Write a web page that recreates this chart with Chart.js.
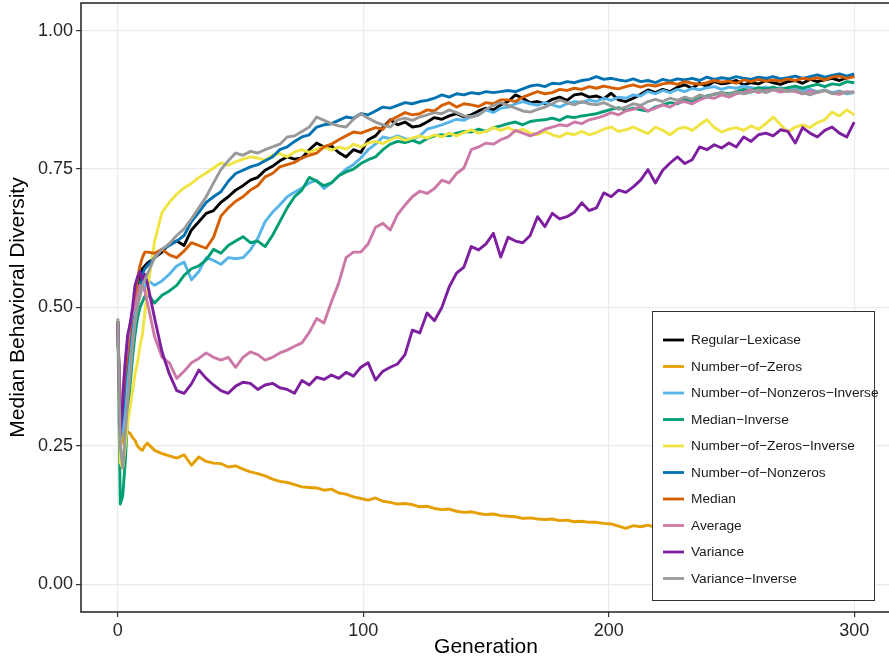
<!DOCTYPE html>
<html>
<head>
<meta charset="utf-8">
<script src="https://cdn.jsdelivr.net/npm/chart.js@4.4.1/dist/chart.umd.min.js"></script>
<style>
  html, body { margin: 0; padding: 0; background: #ffffff; overflow: hidden; }
  #wrap { width: 889px; height: 664px; overflow: hidden; position: relative; }
  canvas { display: block; }
</style>
</head>
<body>
<div id="wrap"><canvas id="chart" width="892" height="664"></canvas></div>
<script>
// Generations at which the median diversity was recorded
const generations = [
  0, 1, 2, 3, 4, 5, 6, 7, 8, 9, 10, 11, 12,
  15, 18, 21, 24, 27, 30, 33, 36, 39, 42, 45, 48,
  51, 54, 57, 60, 63, 66, 69, 72, 75, 78, 81, 84,
  87, 90, 93, 96, 99, 102, 105, 108, 111, 114, 117, 120,
  123, 126, 129, 132, 135, 138, 141, 144, 147, 150, 153, 156,
  159, 162, 165, 168, 171, 174, 177, 180, 183, 186, 189, 192,
  195, 198, 201, 204, 207, 210, 213, 216, 219, 222, 225, 228,
  231, 234, 237, 240, 243, 246, 249, 252, 255, 258, 261, 264,
  267, 270, 273, 276, 279, 282, 285, 288, 291, 294, 297, 300
];

const regularLexicase = [
  0.475, 0.27, 0.30, 0.35, 0.40, 0.44, 0.48, 0.51, 0.54, 0.55, 0.57, 0.575, 0.58,
  0.59, 0.60, 0.615, 0.62, 0.612, 0.64, 0.655, 0.67, 0.675, 0.69, 0.70, 0.712,
  0.72, 0.73, 0.735, 0.748, 0.755, 0.765, 0.772, 0.768, 0.77, 0.785, 0.797, 0.79,
  0.792, 0.78, 0.772, 0.785, 0.78, 0.803, 0.81, 0.825, 0.839, 0.83, 0.835, 0.826,
  0.828, 0.835, 0.843, 0.84, 0.846, 0.85, 0.844, 0.848, 0.855, 0.86, 0.857, 0.866,
  0.872, 0.884, 0.878, 0.87, 0.872, 0.868, 0.876, 0.88, 0.874, 0.884, 0.886, 0.88,
  0.882, 0.877, 0.887, 0.875, 0.872, 0.878, 0.885, 0.893, 0.888, 0.894, 0.89, 0.898,
  0.902, 0.896, 0.905, 0.90, 0.908, 0.904, 0.906, 0.91, 0.902, 0.906, 0.904, 0.91,
  0.906, 0.903, 0.908, 0.91, 0.905, 0.912, 0.908, 0.911, 0.914, 0.91, 0.915, 0.918
];

const numberOfZeros = [
  0.475, 0.25, 0.26, 0.28, 0.275, 0.273, 0.265, 0.26, 0.25, 0.245, 0.242, 0.25, 0.255,
  0.242, 0.236, 0.232, 0.228, 0.234, 0.215, 0.23, 0.222, 0.219, 0.218, 0.212, 0.214,
  0.208, 0.203, 0.20, 0.196, 0.19, 0.186, 0.184, 0.18, 0.176, 0.175, 0.174, 0.17,
  0.172, 0.165, 0.163, 0.158, 0.155, 0.152, 0.156, 0.15, 0.148, 0.145, 0.146, 0.144,
  0.14, 0.141, 0.137, 0.135, 0.136, 0.132, 0.13, 0.131, 0.128, 0.126, 0.127, 0.124,
  0.123, 0.122, 0.119, 0.12, 0.118, 0.117, 0.118, 0.115, 0.116, 0.113, 0.114, 0.112,
  0.112, 0.11, 0.109, 0.105, 0.101, 0.106, 0.104, 0.107, 0.103, 0.102, 0.10, 0.099,
  0.098, 0.097, 0.096, 0.095, 0.096, 0.094, 0.093, 0.092, 0.093, 0.091, 0.09, 0.091,
  0.089, 0.09, 0.088, 0.087, 0.088, 0.086, 0.087, 0.085, 0.086, 0.084, 0.085, 0.084
];

const numberOfNonzerosInverse = [
  0.475, 0.26, 0.28, 0.33, 0.38, 0.42, 0.46, 0.50, 0.52, 0.54, 0.545, 0.53, 0.55,
  0.54, 0.548, 0.56, 0.575, 0.582, 0.55, 0.565, 0.59, 0.585, 0.578, 0.59, 0.588,
  0.59, 0.604, 0.625, 0.655, 0.672, 0.685, 0.70, 0.708, 0.716, 0.725, 0.73, 0.715,
  0.725, 0.738, 0.75, 0.758, 0.77, 0.785, 0.795, 0.808, 0.805, 0.81, 0.805, 0.803,
  0.81, 0.822, 0.826, 0.83, 0.835, 0.84, 0.838, 0.845, 0.848, 0.857, 0.852, 0.86,
  0.862, 0.868, 0.872, 0.868, 0.865, 0.87, 0.866, 0.862, 0.868, 0.872, 0.87, 0.875,
  0.872, 0.878, 0.874, 0.88, 0.878, 0.884, 0.882, 0.89, 0.886, 0.892, 0.888, 0.894,
  0.89, 0.896, 0.893, 0.897, 0.899, 0.894, 0.898, 0.896, 0.90, 0.897, 0.895, 0.898,
  0.894, 0.897, 0.893, 0.896, 0.891, 0.894, 0.89, 0.893, 0.888, 0.891, 0.886, 0.888
];

const medianInverse = [
  0.475, 0.145, 0.16, 0.22, 0.30, 0.36, 0.41, 0.45, 0.48, 0.50, 0.51, 0.52, 0.525,
  0.508, 0.522, 0.53, 0.54, 0.558, 0.57, 0.575, 0.586, 0.605, 0.598, 0.612, 0.62,
  0.628, 0.617, 0.62, 0.61, 0.63, 0.655, 0.68, 0.70, 0.712, 0.735, 0.728, 0.72,
  0.725, 0.738, 0.745, 0.75, 0.76, 0.767, 0.772, 0.785, 0.795, 0.80, 0.798, 0.802,
  0.797, 0.805, 0.81, 0.812, 0.81, 0.815, 0.818, 0.817, 0.822, 0.818, 0.825, 0.828,
  0.832, 0.835, 0.83, 0.836, 0.838, 0.839, 0.842, 0.838, 0.845, 0.843, 0.846, 0.848,
  0.85, 0.854, 0.858, 0.861, 0.856, 0.86, 0.857, 0.855, 0.862, 0.866, 0.87, 0.868,
  0.875, 0.872, 0.878, 0.882, 0.885, 0.888, 0.886, 0.89, 0.894, 0.892, 0.897, 0.895,
  0.898, 0.894, 0.897, 0.90, 0.896, 0.90, 0.903, 0.899, 0.904, 0.902, 0.908, 0.906
];

const numberOfZerosInverse = [
  0.475, 0.22, 0.21, 0.25, 0.29, 0.32, 0.35, 0.38, 0.40, 0.43, 0.45, 0.49, 0.53,
  0.62, 0.672, 0.69, 0.705, 0.716, 0.724, 0.735, 0.743, 0.752, 0.761, 0.757, 0.763,
  0.768, 0.772, 0.77, 0.766, 0.775, 0.778, 0.772, 0.781, 0.785, 0.78, 0.786, 0.79,
  0.784, 0.79, 0.786, 0.795, 0.79, 0.797, 0.80, 0.796, 0.803, 0.808, 0.802, 0.806,
  0.81, 0.806, 0.812, 0.808, 0.815, 0.81, 0.816, 0.821, 0.815, 0.818, 0.825, 0.82,
  0.825, 0.818, 0.822, 0.815, 0.812, 0.818, 0.812, 0.808, 0.815, 0.812, 0.818, 0.812,
  0.816, 0.822, 0.826, 0.818, 0.821, 0.826, 0.82, 0.814, 0.826, 0.82, 0.812, 0.822,
  0.826, 0.82, 0.83, 0.839, 0.825, 0.817, 0.822, 0.825, 0.82, 0.828, 0.822, 0.832,
  0.844, 0.83, 0.817, 0.826, 0.83, 0.825, 0.834, 0.839, 0.853, 0.846, 0.857, 0.848
];

const numberOfNonzeros = [
  0.475, 0.28, 0.31, 0.37, 0.41, 0.45, 0.49, 0.52, 0.53, 0.54, 0.56, 0.57, 0.575,
  0.59, 0.605, 0.612, 0.62, 0.63, 0.655, 0.672, 0.69, 0.70, 0.709, 0.728, 0.742,
  0.748, 0.754, 0.758, 0.765, 0.772, 0.785, 0.79, 0.80, 0.808, 0.812, 0.826, 0.83,
  0.832, 0.838, 0.844, 0.842, 0.85, 0.848, 0.855, 0.862, 0.86, 0.865, 0.87, 0.868,
  0.872, 0.874, 0.878, 0.884, 0.88, 0.886, 0.884, 0.888, 0.886, 0.89, 0.888, 0.89,
  0.892, 0.89, 0.895, 0.90, 0.902, 0.899, 0.905, 0.904, 0.908, 0.906, 0.91, 0.912,
  0.917, 0.912, 0.914, 0.911, 0.909, 0.913, 0.908, 0.91, 0.906, 0.912, 0.909, 0.913,
  0.911, 0.914, 0.91, 0.916, 0.912, 0.915, 0.913, 0.917, 0.914, 0.912, 0.916, 0.914,
  0.917, 0.913, 0.915, 0.918, 0.914, 0.917, 0.92, 0.916, 0.919, 0.922, 0.918, 0.922
];

const median = [
  0.475, 0.30, 0.33, 0.38, 0.42, 0.46, 0.49, 0.52, 0.55, 0.575, 0.59, 0.60, 0.60,
  0.598, 0.605, 0.595, 0.59, 0.602, 0.617, 0.612, 0.607, 0.627, 0.665, 0.68, 0.692,
  0.70, 0.712, 0.72, 0.736, 0.742, 0.754, 0.758, 0.762, 0.77, 0.775, 0.779, 0.79,
  0.795, 0.803, 0.81, 0.817, 0.815, 0.82, 0.825, 0.822, 0.838, 0.845, 0.852, 0.848,
  0.85, 0.857, 0.855, 0.865, 0.87, 0.862, 0.868, 0.866, 0.863, 0.87, 0.868, 0.875,
  0.875, 0.872, 0.88, 0.885, 0.89, 0.886, 0.888, 0.894, 0.892, 0.896, 0.894, 0.899,
  0.896, 0.90, 0.897, 0.895, 0.899, 0.902, 0.898, 0.902, 0.90, 0.904, 0.906, 0.903,
  0.908, 0.905, 0.903, 0.906, 0.91, 0.907, 0.909, 0.905, 0.911, 0.908, 0.912, 0.909,
  0.911, 0.909, 0.913, 0.91, 0.914, 0.912, 0.915, 0.911, 0.916, 0.918, 0.914, 0.917
];

const average = [
  0.47, 0.28, 0.35, 0.40, 0.44, 0.47, 0.49, 0.50, 0.52, 0.54, 0.54, 0.53, 0.51,
  0.447, 0.41, 0.40, 0.372, 0.385, 0.40, 0.408, 0.418, 0.41, 0.405, 0.41, 0.392,
  0.41, 0.42, 0.415, 0.405, 0.41, 0.418, 0.423, 0.43, 0.436, 0.455, 0.48, 0.472,
  0.51, 0.544, 0.59, 0.60, 0.60, 0.615, 0.645, 0.652, 0.64, 0.668, 0.685, 0.70,
  0.71, 0.706, 0.715, 0.73, 0.725, 0.742, 0.752, 0.785, 0.79, 0.797, 0.795, 0.803,
  0.808, 0.82, 0.815, 0.81, 0.815, 0.822, 0.826, 0.83, 0.828, 0.835, 0.832, 0.839,
  0.842, 0.846, 0.852, 0.848, 0.855, 0.858, 0.863, 0.855, 0.86, 0.866, 0.862, 0.87,
  0.872, 0.868, 0.875, 0.88, 0.878, 0.884, 0.88, 0.886, 0.889, 0.893, 0.888, 0.892,
  0.893, 0.889, 0.892, 0.89, 0.886, 0.891, 0.888, 0.892, 0.887, 0.885, 0.89, 0.888
];

const variance = [
  0.47, 0.27, 0.33, 0.40, 0.45, 0.47, 0.50, 0.54, 0.555, 0.565, 0.55, 0.56, 0.545,
  0.48, 0.42, 0.38, 0.35, 0.345, 0.362, 0.387, 0.372, 0.36, 0.35, 0.345, 0.358,
  0.365, 0.363, 0.352, 0.36, 0.363, 0.355, 0.352, 0.345, 0.368, 0.36, 0.374, 0.37,
  0.378, 0.372, 0.383, 0.376, 0.392, 0.40, 0.369, 0.385, 0.392, 0.398, 0.415, 0.459,
  0.454, 0.49, 0.476, 0.50, 0.537, 0.562, 0.573, 0.61, 0.604, 0.615, 0.634, 0.591,
  0.627, 0.62, 0.617, 0.63, 0.664, 0.646, 0.67, 0.66, 0.664, 0.672, 0.689, 0.675,
  0.68, 0.707, 0.70, 0.712, 0.708, 0.718, 0.73, 0.749, 0.725, 0.748, 0.761, 0.772,
  0.76, 0.767, 0.79, 0.785, 0.794, 0.788, 0.797, 0.79, 0.808, 0.80, 0.812, 0.815,
  0.81, 0.821, 0.818, 0.797, 0.825, 0.815, 0.808, 0.82, 0.826, 0.815, 0.808, 0.835
];

const varianceInverse = [
  0.48, 0.25, 0.21, 0.27, 0.33, 0.38, 0.43, 0.47, 0.50, 0.52, 0.54, 0.55, 0.56,
  0.59, 0.605, 0.615, 0.63, 0.642, 0.66, 0.68, 0.70, 0.725, 0.749, 0.765, 0.779,
  0.775, 0.782, 0.779, 0.785, 0.79, 0.795, 0.808, 0.81, 0.818, 0.826, 0.844, 0.838,
  0.832, 0.828, 0.826, 0.84, 0.85, 0.842, 0.835, 0.83, 0.826, 0.839, 0.842, 0.838,
  0.844, 0.848, 0.852, 0.85, 0.857, 0.852, 0.846, 0.844, 0.848, 0.858, 0.865, 0.87,
  0.865, 0.86, 0.855, 0.853, 0.858, 0.862, 0.868, 0.875, 0.87, 0.866, 0.872, 0.868,
  0.866, 0.87, 0.864, 0.858, 0.862, 0.868, 0.865, 0.872, 0.876, 0.872, 0.878, 0.874,
  0.88, 0.876, 0.884, 0.88, 0.886, 0.888, 0.884, 0.89, 0.886, 0.889, 0.893, 0.888,
  0.893, 0.895, 0.89, 0.893, 0.888, 0.884, 0.889, 0.892, 0.886, 0.89, 0.888, 0.89
];

// Series names in legend order, with their colours
const seriesNames = [
  "Regular\u2212Lexicase", "Number\u2212of\u2212Zeros", "Number\u2212of\u2212Nonzeros\u2212Inverse",
  "Median\u2212Inverse", "Number\u2212of\u2212Zeros\u2212Inverse", "Number\u2212of\u2212Nonzeros",
  "Median", "Average", "Variance", "Variance\u2212Inverse"
];
const seriesValues = [
  regularLexicase, numberOfZeros, numberOfNonzerosInverse, medianInverse,
  numberOfZerosInverse, numberOfNonzeros, median, average, variance, varianceInverse
];
const seriesColors = [
  "#000000", "#E69F00", "#56B4E9", "#009E73", "#F0E442",
  "#0072B2", "#D55E00", "#CC79A7", "#7D1F9E", "#999999"
];

const xTicks = [0, 100, 200, 300];
const yTicks = [0, 0.25, 0.5, 0.75, 1.0];

const FONT = "'Liberation Sans', Arial, Helvetica, sans-serif";

const datasets = seriesNames.map((name, i) => ({
  label: name,
  data: generations.map((g, j) => ({ x: g, y: seriesValues[i][j] })),
  borderColor: seriesColors[i],
  backgroundColor: seriesColors[i],
  borderWidth: 2.9,
  pointRadius: 0,
  tension: 0,
  fill: false,
  borderJoinStyle: 'round',
  borderCapStyle: 'butt',
  // later series are painted over earlier ones
  order: seriesNames.length - 1 - i
}));

// Panel frame plus the boxed legend inside the lower right of the panel
const panelDecor = {
  id: 'panelDecor',
  afterDatasetsDraw(chart) {
    const ctx = chart.ctx;
    const a = chart.chartArea;
    ctx.save();
    // frame
    ctx.strokeStyle = '#1f1f1f';
    ctx.lineWidth = 1.5;
    ctx.strokeRect(a.left, a.top, a.right - a.left, a.bottom - a.top);

    // legend box
    const boxW = 222, boxH = 289;
    const bx = a.right - 17 - boxW;
    const by = a.bottom - 12 - boxH;
    ctx.fillStyle = '#ffffff';
    ctx.fillRect(bx, by, boxW, boxH);
    ctx.strokeStyle = '#333333';
    ctx.lineWidth = 1;
    ctx.strokeRect(bx + 0.5, by + 0.5, boxW, boxH);

    ctx.font = '13.7px ' + FONT;
    ctx.textBaseline = 'middle';
    ctx.textAlign = 'left';
    chart.data.datasets.forEach((ds, i) => {
      const cy = by + 29 + i * 26.5;
      ctx.strokeStyle = ds.borderColor;
      ctx.lineWidth = 2.8;
      ctx.beginPath();
      ctx.moveTo(bx + 11, cy);
      ctx.lineTo(bx + 32, cy);
      ctx.stroke();
      ctx.fillStyle = '#1a1a1a';
      ctx.fillText(ds.label, bx + 39, cy + 0.5);
    });
    ctx.restore();
  }
};

new Chart(document.getElementById('chart'), {
  type: 'line',
  data: { datasets },
  plugins: [panelDecor],
  options: {
    responsive: false,
    animation: false,
    layout: { padding: { top: 3, right: 1, left: 0, bottom: 0 } },
    plugins: {
      legend: { display: false },
      tooltip: { enabled: false }
    },
    scales: {
      x: {
        type: 'linear',
        min: -15,
        max: 315,
        afterBuildTicks(scale) { scale.ticks = xTicks.map(v => ({ value: v })); },
        afterFit(scale) {
          scale.height = 52;
          scale.paddingLeft = 0;
          scale.paddingRight = 0;
        },
        ticks: {
          color: '#262626',
          font: { family: FONT, size: 18 },
          padding: 3,
          maxRotation: 0,
          callback: v => String(v)
        },
        grid: {
          color: '#EBEBEB',
          lineWidth: 1.2,
          tickColor: '#333333',
          tickLength: 5,
          tickWidth: 1.2
        },
        border: { display: false },
        title: {
          display: true,
          text: 'Generation',
          color: '#000000',
          font: { family: FONT, size: 21 },
          padding: { top: 0, bottom: 4 }
        }
      },
      y: {
        type: 'linear',
        min: -0.05,
        max: 1.05,
        afterBuildTicks(scale) { scale.ticks = yTicks.map(v => ({ value: v })); },
        afterFit(scale) {
          scale.width = 81;
          scale.paddingTop = 0;
          scale.paddingBottom = 0;
        },
        ticks: {
          color: '#262626',
          font: { family: FONT, size: 18 },
          padding: 3,
          callback: v => Number(v).toFixed(2)
        },
        grid: {
          color: '#EBEBEB',
          lineWidth: 1.2,
          tickColor: '#333333',
          tickLength: 5,
          tickWidth: 1.2
        },
        border: { display: false },
        title: {
          display: true,
          text: 'Median Behavioral Diversity',
          color: '#000000',
          font: { family: FONT, size: 21 },
          padding: { top: 6, bottom: 0 }
        }
      }
    }
  }
});
</script>
</body>
</html>
